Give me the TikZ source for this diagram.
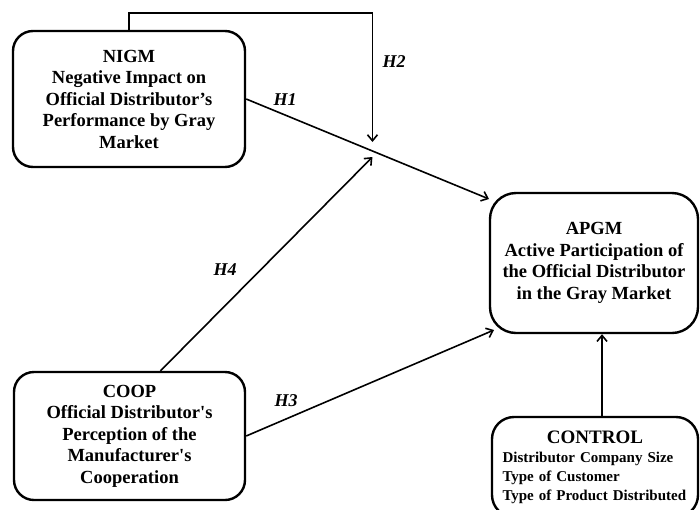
\documentclass[tikz,border=0pt]{standalone}
\usepackage{fontspec}
\setmainfont{Liberation Serif}[Ligatures=TeXOff]
\usetikzlibrary{calc,arrows.meta}
\tikzset{
  cbox/.style={draw, line width=2.4pt, rounded corners=20pt, align=center,
               font=\fontsize{18.5}{21.5}\selectfont\bfseries, inner sep=2pt},
  hyp/.style={line width=1.6pt, -{Straight Barb[length=6pt,width=10pt,line width=1.6pt]}},
  hlab/.style={font=\fontsize{18}{20}\selectfont\bfseries\itshape, inner sep=1pt},
}
\begin{document}
\begin{tikzpicture}[x=1pt,y=-1pt]
  \useasboundingbox (0,0) rectangle (700,509);
  \clip (0,0) rectangle (700,509);
  % --- constructs ---
  \node[cbox, minimum width=232pt, minimum height=136pt] (NIGM) at (129,99)
    {NIGM\\Negative Impact on\\Official Distributor’s\\Performance by Gray\\Market};
  \node[cbox, minimum width=231pt, minimum height=128pt] (COOP) at (129.5,436)
    {COOP\\Official Distributor's\\Perception of the\\Manufacturer's\\Cooperation};
  \node[cbox, rounded corners=26pt, minimum width=208pt, minimum height=140pt] (APGM) at (594,263)
    {APGM\\Active Participation of\\the Official Distributor\\in the Gray Market};
  \node[cbox, rounded corners=22pt, minimum width=206pt, minimum height=100pt,
        text width=185pt, align=left, font=\fontsize{15}{19}\selectfont\bfseries] (CONTROL) at (595,467)
    {\hfil{\fontsize{19}{21}\selectfont CONTROL}\hfil\\Distributor Company Size\\Type of Customer\\Type of Product Distributed};

  % --- end points on APGM and moderation point on H1 ---
  \coordinate (apin1) at (489,199);
  \coordinate (apin3) at (494,330);
  \coordinate (mod) at ($(NIGM.east)!0.52!(apin1)$);
  \coordinate (h2corner) at (mod |- 0,13);
  \coordinate (h2end) at ([yshift=9pt]mod);
  \coordinate (h4end) at ([yshift=-6pt]mod);
  \coordinate (ctop) at ([xshift=7pt]CONTROL.north);

  % --- hypotheses ---
  \draw[hyp] (NIGM.east) -- (apin1);
  \draw[hyp] (NIGM.north) |- (h2corner) -- (h2end);
  \draw[hyp] (COOP.east) -- (apin3);
  \draw[hyp] ([xshift=31pt]COOP.north) -- (h4end);
  \draw[hyp] (ctop) -- (ctop |- APGM.south);

  \node[hlab] (lh1) at (285,100) {H1};
  \node[hlab] (lh2) at (394,62) {H2};
  \node[hlab] (lh3) at (286,401) {H3};
  \node[hlab] (lh4) at (225,270) {H4};
\end{tikzpicture}
\end{document}
